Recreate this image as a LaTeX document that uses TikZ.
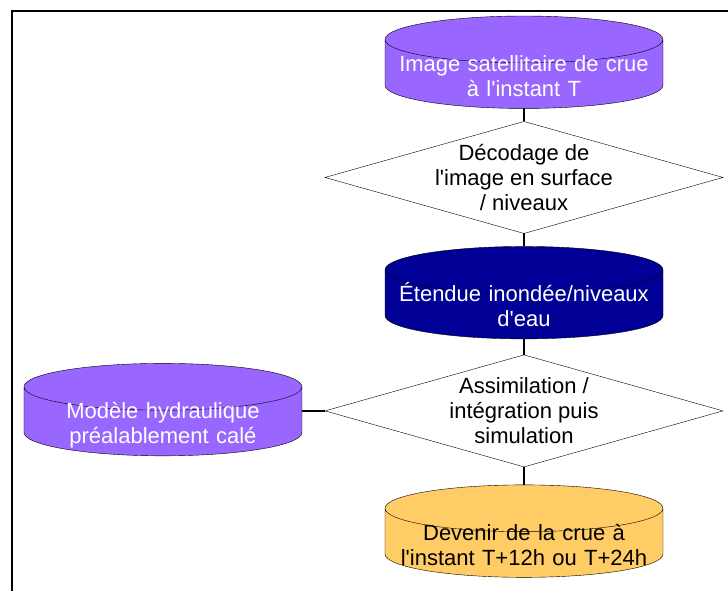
\documentclass[tikz,border=0pt]{standalone}
\usepackage{fontspec}
\setmainfont{Liberation Sans}
\usetikzlibrary{shapes.geometric, positioning}
\definecolor{lavender}{RGB}{153,102,255}
\definecolor{deepnavy}{RGB}{0,0,150}
\definecolor{apricot}{RGB}{255,204,102}
\newcommand{\ap}{\textquotesingle}
\tikzset{
  store/.style={
    cylinder, shape border rotate=90, aspect=0.18, draw=black,
    fill=#1, minimum width=278pt, minimum height=40pt, outer sep=0pt,
    inner sep=2pt, text width=256pt, text height=6.5pt, text depth=15.5pt,
    align=center, font=\fontsize{22}{25}\selectfont
  },
  decision/.style={
    diamond, aspect=3.6, draw=black, fill=white, outer sep=0pt,
    minimum width=398pt, minimum height=112pt,
    inner sep=-20pt, align=center, font=\fontsize{22}{25}\selectfont
  },
  link/.style={draw=black, line width=2pt}
}
\begin{document}
\begin{tikzpicture}[x=1pt, y=1pt, node distance=16pt]
\useasboundingbox (0,0) rectangle (728,-590);
\clip (0,0) rectangle (728,-590);

% frame
\draw[line width=2pt] (12,-600) -- (12,-11) -- (740,-11);

% main column
\node[store=lavender, text=white, anchor=north] (satimage) at (524,-16)
  {Image satellitaire de crue\\à l\ap instant T};
\node[decision, below=13pt of satimage] (decode)
  {Décodage de\\l\ap image en surface\\/ niveaux};
\node[store=deepnavy, text=white, below=13pt of decode] (extent)
  {Étendue inondée/niveaux\\d\ap eau};
\node[decision, below=16pt of extent] (assim)
  {Assimilation /\\intégration puis\\simulation};
\node[store=apricot, below=18pt of assim] (forecast)
  {Devenir de la crue à\\l\ap instant T+12h ou T+24h};

% model on the left
\node[store=lavender, text=white, left=23pt of assim, yshift=-12.5pt] (model)
  {Modèle hydraulique\\préalablement calé};

% connectors
\draw[link] (satimage) -- (decode);
\draw[link] (decode) -- (extent);
\draw[link] (extent) -- (assim);
\draw[link] (assim) -- (forecast);
\draw[link] (assim.west) -- (assim.west -| model.east);

\end{tikzpicture}
\end{document}
